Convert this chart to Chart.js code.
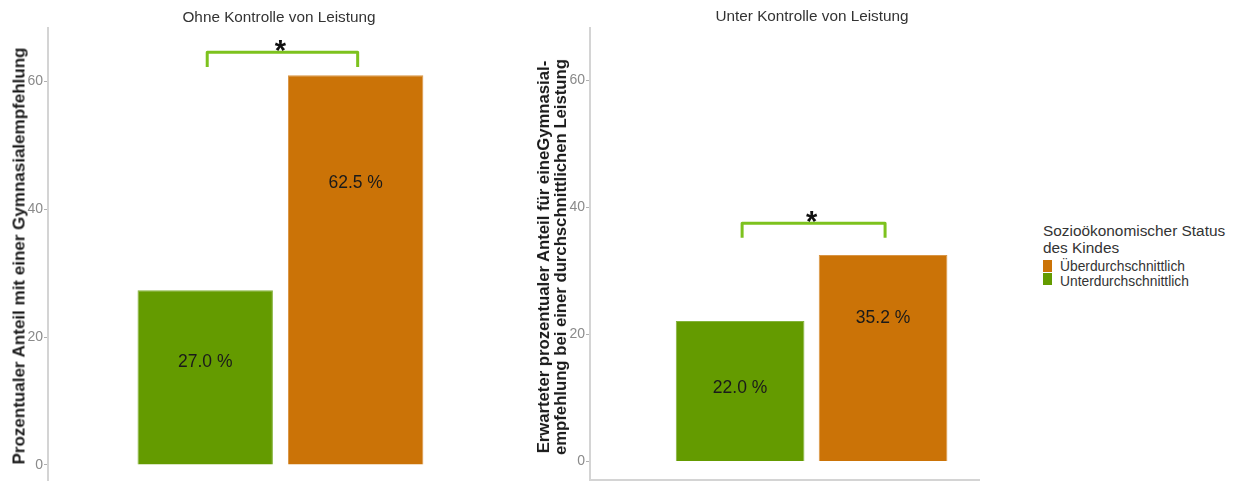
<!DOCTYPE html>
<html>
<head>
<meta charset="utf-8">
<script src="https://cdn.jsdelivr.net/npm/chart.js@4/dist/chart.umd.min.js"></script>
<style>
  body { margin: 0; background: #fff; font-family: "Liberation Sans", Arial, sans-serif; }
  #wrap { position: relative; width: 1236px; height: 482px; overflow: hidden; }
  canvas { position: absolute; top: 0; }
  .t { position: absolute; white-space: nowrap; color: #333; }
  .panel { font-size: 15.3px; transform: translate(-50%, -50%); }
  .ytitle { font-weight: bold; color: #1a1a1a; text-align: center; line-height: 17px;
            transform: translate(-50%, -50%) rotate(-90deg); }
  .key { position: absolute; width: 9px; height: 12px; }
</style>
</head>
<body>
<div id="wrap">
  <canvas id="leftChart" width="470" height="482" style="left:0px"></canvas>
  <canvas id="rightChart" width="480" height="482" style="left:500px"></canvas>

  <div class="t panel" style="left:279px; top:17px">Ohne Kontrolle von Leistung</div>
  <div class="t panel" style="left:812px; top:16px">Unter Kontrolle von Leistung</div>

  <div class="t ytitle" style="left:19px; top:256px; font-size:17px">Prozentualer Anteil mit einer Gymnasialempfehlung</div>
  <div class="t ytitle" style="left:552px; top:257px; font-size:16.7px">Erwarteter prozentualer Anteil für eineGymnasial-<br>empfehlung bei einer durchschnittlichen Leistung</div>

  <div class="t" style="left:1043px; top:223px; font-size:15.4px; line-height:16.5px">Sozioökonomischer Status<br>des Kindes</div>
  <div class="key" style="left:1043px; top:260px; background:#cb7307"></div>
  <div class="key" style="left:1043px; top:273px; background:#649b00"></div>
  <div class="t" style="left:1060px; top:259px; font-size:13.8px; line-height:15px">Überdurchschnittlich<br>Unterdurchschnittlich</div>
</div>

<script>
// data
const statusLabels = ['Unterdurchschnittlich', 'Überdurchschnittlich'];
const statusColors = ['#649b00', '#cb7307'];
const statusEdges = ['#84b33a', '#d99544'];
const ohneValues = [27.3, 60.9];
const unterValues = [22.1, 32.5];
const ohneTexts = ['27.0 %', '62.5 %'];
const unterTexts = ['22.0 %', '35.2 %'];
const ohneTextPos = [16.0, 44.1];
const unterTextPos = [11.6, 22.5];
const bracketTop = [64.5, 37.5];
const bracketFoot = [62.2, 35.2];
const tickValues = [0, 20, 40, 60];

const FONT = '"Liberation Sans", Arial, sans-serif';

// value labels, significance bracket and star
const annotatePlugin = {
  id: 'annotate',
  afterDatasetsDraw(chart, args, opts) {
    const { ctx } = chart;
    const x = chart.scales.x, y = chart.scales.y;
    ctx.save();
    ctx.fillStyle = '#1a1a1a';
    ctx.font = '17.5px ' + FONT;
    ctx.textAlign = 'center';
    ctx.textBaseline = 'middle';
    opts.texts.forEach((t, i) => {
      ctx.fillText(t, x.getPixelForValue(i + 1), y.getPixelForValue(opts.textPos[i]));
    });

    const x1 = x.getPixelForValue(1) + 2, x2 = x.getPixelForValue(2) + 2;
    const yt = y.getPixelForValue(opts.top), yf = y.getPixelForValue(opts.foot);
    ctx.strokeStyle = '#7dc21e';
    ctx.lineWidth = 3;
    ctx.lineJoin = 'round';
    ctx.beginPath();
    ctx.moveTo(x1, yf);
    ctx.lineTo(x1, yt);
    ctx.lineTo(x2, yt);
    ctx.lineTo(x2, yf);
    ctx.stroke();

    ctx.fillStyle = '#111';
    ctx.font = 'bold 29px ' + FONT;
    ctx.textBaseline = 'alphabetic';
    ctx.fillText('*', (x1 + x2) / 2 - 2, yt + 8);
    ctx.restore();
  }
};

function makeChart(id, values, texts, textPos, idx, cfg) {
  return new Chart(document.getElementById(id), {
    type: 'bar',
    data: {
      labels: statusLabels,
      datasets: [{
        data: values.map((v, i) => ({ x: i + 1, y: v })),
        backgroundColor: statusColors,
        borderColor: statusEdges,
        borderWidth: 1,
        barPercentage: 0.9,
        categoryPercentage: 1
      }]
    },
    options: {
      responsive: false,
      animation: false,
      layout: { padding: { top: 28, bottom: 0, left: 0, right: 0 } },
      plugins: {
        legend: { display: false },
        tooltip: { enabled: false },
        annotate: { texts, textPos, top: bracketTop[idx], foot: bracketFoot[idx] }
      },
      scales: {
        x: {
          type: 'linear',
          display: cfg.showX,
          offset: false,
          min: cfg.xMin,
          max: cfg.xMax,
          grid: { display: false, offset: false },
          border: { display: true, color: '#d4d4d4', width: 2 },
          ticks: { display: false },
          afterBuildTicks: s => { s.ticks = [{ value: 1 }, { value: 2 }]; },
          afterFit: s => { s.height = 2; s.paddingLeft = 0; s.paddingRight = 0; }
        },
        y: {
          min: cfg.yMin,
          max: cfg.yMax,
          grid: { display: true, drawOnChartArea: false, drawTicks: true, tickLength: 4, color: '#b0b0b0', lineWidth: 1 },
          border: { display: true, color: '#d4d4d4', width: 2 },
          ticks: { color: '#8a8a8a', font: { family: FONT, size: 14 }, padding: 1 },
          afterBuildTicks: s => { s.ticks = tickValues.map(v => ({ value: v })); },
          afterFit: s => { s.width = cfg.yWidth; s.paddingTop = 0; s.paddingBottom = 0; }
        }
      }
    },
    plugins: [annotatePlugin]
  });
}

makeChart('leftChart', ohneValues, ohneTexts, ohneTextPos, 0,
  { xMin: -0.045, xMax: 2.76, yMin: -2.35, yMax: 68.3, yWidth: 48, showX: false });
makeChart('rightChart', unterValues, unterTexts, unterTextPos, 1,
  { xMin: -0.05, xMax: 2.678, yMin: -2.9, yMax: 68.2, yWidth: 90, showX: true });
</script>
</body>
</html>
